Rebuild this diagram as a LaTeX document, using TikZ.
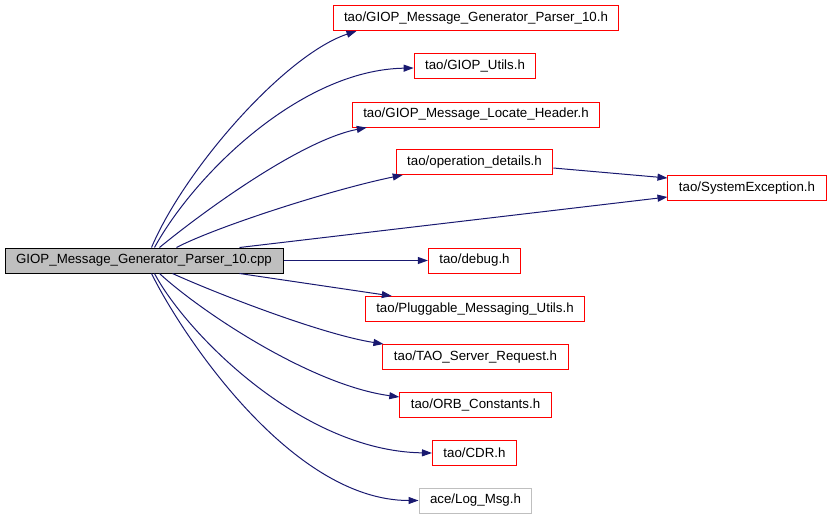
\documentclass[tikz,border=0pt]{standalone}
\usepackage{fontspec}
\setmainfont{Liberation Sans}
\usetikzlibrary{arrows.meta}
\definecolor{edgeblue}{HTML}{191970}
\definecolor{hdrred}{HTML}{FF0000}
\definecolor{boxgray}{HTML}{BFBFBF}
\tikzset{
  filebox/.style={draw, line width=1pt, inner xsep=11pt, inner ysep=0pt,
    minimum height=25pt, font=\fontsize{13.3}{16}\selectfont},
  mainfile/.style={filebox, fill=boxgray, draw=black, minimum width=278pt},
  hdrfile/.style={filebox, draw=hdrred},
  extfile/.style={filebox, draw=boxgray},
  dep/.style={draw=edgeblue, line width=1pt,
    -{Triangle[length=10pt,width=7pt]}, edgeblue}
}
\begin{document}
\begin{tikzpicture}[x=1pt,y=-1pt]
                \useasboundingbox (0,0) rectangle (832,517);
                
                % Marking the source file
                \node [mainfile] (src) at (144,260.5) {GIOP\_Message\_Generator\_Parser\_10.cpp};
                
                % Marking the included headers
                \node [hdrfile] (parser) at (476,18) {tao/GIOP\_Message\_Generator\_Parser\_10.h};
                \node [hdrfile] (utils) at (475,66) {tao/GIOP\_Utils.h};
                \node [hdrfile] (locate) at (476,114.5) {tao/GIOP\_Message\_Locate\_Header.h};
                \node [hdrfile] (opdet) at (474.5,162) {tao/operation\_details.h};
                \node [hdrfile] (sysexc) at (747,188) {tao/SystemException.h};
                \node [hdrfile] (debug) at (474.5,260.5) {tao/debug.h};
                \node [hdrfile] (plug) at (475,309) {tao/Pluggable\_Messaging\_Utils.h};
                \node [hdrfile] (request) at (475.5,357) {tao/TAO\_Server\_Request.h};
                \node [hdrfile] (orbconst) at (475.5,405) {tao/ORB\_Constants.h};
                \node [hdrfile] (cdr) at (474.5,453) {tao/CDR.h};
                \node [extfile] (logmsg) at (475.5,500.5) {ace/Log\_Msg.h};
                
                % Drawing edges above the source file
                \draw [dep] ([xshift=147pt]src.north west) .. controls +(33,-78) and +(-72,24) .. ([xshift=24pt]parser.south west);%
                \draw [dep] ([xshift=150pt]src.north west) .. controls +(40,-73) and +(-113,2) .. ([yshift=-2pt]utils.west);%
                \draw [dep] ([xshift=155pt]src.north west) .. controls +(40,-33) and +(-67,13) .. ([xshift=15pt]locate.south west);%
                \draw [dep] ([xshift=172pt]src.north west) .. controls +(38,-20) and +(-73,15) .. ([xshift=7pt]opdet.south west);%
                \draw [dep] ([xshift=235pt]src.north west) -- ([yshift=-9pt]sysexc.west);%
                
                % Drawing edge operation_details SystemException
                \draw [dep] ([yshift=-6pt]opdet.east) -- ([yshift=10pt]sysexc.west);%
                
                % Drawing straight edge to debug
                \draw [dep] (src.east) -- (debug.west);%
                
                % Drawing edges below the source file
                \draw [dep] ([xshift=235pt]src.south west) -- ([xshift=27pt]plug.north west);%
                \draw [dep] ([xshift=168pt]src.south west) .. controls +(37,17) and +(-64,-10) .. ([xshift=1pt]request.north west);%
                \draw [dep] ([xshift=155pt]src.south west) .. controls +(40,37) and +(-89,-12) .. ([yshift=8pt]orbconst.west);%
                \draw [dep] ([xshift=150pt]src.south west) .. controls +(30,57) and +(-132,-2) .. (cdr.west);%
                \draw [dep] ([xshift=147pt]src.south west) .. controls +(28,57) and +(-129,0) .. (logmsg.west);%
            \end{tikzpicture}
\end{document}
